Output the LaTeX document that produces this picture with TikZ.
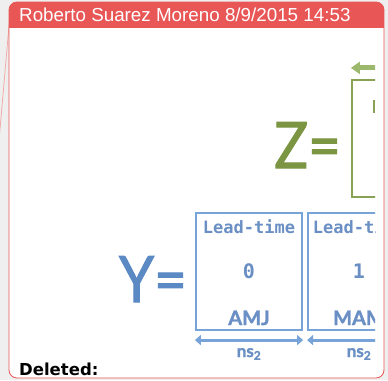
\documentclass[tikz,border=0pt]{standalone}
\usepackage{fontspec}
\setmainfont{Liberation Sans}
\newfontfamily\monofont{DejaVu Sans Mono}
\newfontfamily\bigfont{Lato}[FakeBold=1.6, BoldFeatures={FakeBold=1.4}]
\newfontfamily\notefont{DejaVu Sans}
\usetikzlibrary{positioning, arrows.meta}

\definecolor{balloonred}{HTML}{E85656}
\definecolor{pagegray}{HTML}{EFEFEF}
\definecolor{boxblue}{HTML}{78A3D8}
\definecolor{textblue}{HTML}{6A8FC4}
\definecolor{yblue}{HTML}{5A89C3}
\definecolor{zgreen}{HTML}{7B9542}
\definecolor{boxgreen}{HTML}{88A253}
\definecolor{arrowgreen}{HTML}{9CB86C}

\tikzset{
  ybox/.style={draw=boxblue, line width=2.2pt, minimum width=106pt, minimum height=117pt, inner sep=0pt},
  zbox/.style={draw=boxgreen, line width=2.2pt, minimum width=106pt, minimum height=117pt, inner sep=0pt},
  leadtext/.style={text=textblue, font=\monofont\bfseries\fontsize{17}{17}\selectfont, anchor=base, inner sep=0pt},
  numtext/.style={text=textblue, font=\monofont\bfseries\fontsize{20}{20}\selectfont, anchor=base, inner sep=0pt},
  monthtext/.style={text=textblue, font=\bigfont\bfseries\fontsize{20}{20}\selectfont, anchor=base, inner sep=0pt},
  nstext/.style={text=textblue, font=\bigfont\bfseries\fontsize{17}{17}\selectfont, anchor=base, inner sep=0pt},
  bigletter/.style={font=\bigfont\fontsize{64}{64}\selectfont, anchor=base east, inner sep=0pt, xscale=0.88},
  nsarrow/.style={draw=boxblue, line width=3.2pt, {Triangle[width=10pt,length=6pt]}-{Triangle[width=10pt,length=6pt]}},
  zarrow/.style={draw=arrowgreen, line width=5pt, {Triangle[width=12pt,length=9pt]}-{Triangle[width=12pt,length=9pt]}}
}

\begin{document}
\begin{tikzpicture}[x=1pt,y=-1pt]
  \useasboundingbox (0,0) rectangle (388,380);
  \fill[pagegray] (0,0) rectangle (388,380);

  % comment balloon with its leader line
  \draw[balloonred!55, line width=0.7pt] (9.5,20) -- (-0.5,135);
  \fill[white, rounded corners=8pt] (9,2) rectangle (384,378);
  \begin{scope}
    \clip[rounded corners=8pt] (9,2) rectangle (384,378);
    \fill[balloonred] (9,2) rectangle (384,28);
  \end{scope}
  \draw[balloonred, line width=0.8pt, rounded corners=8pt] (9,2) rectangle (384,378);
  \node[text=white, font=\fontsize{18.8}{18.8}\selectfont, anchor=base west, inner sep=0pt]
    (author) at (19,21) {Roberto Suarez Moreno 8/9/2015 14:53};

  % pasted slide, cut at the right edge
  \begin{scope}
    \clip (10,29) rectangle (375,377);

    % Z row
    \node[bigletter, text=zgreen] (zeq) at (341,168) {Z=};
    \node[zbox] (zb) at (405,138.5) {};
    \draw[zarrow] ([yshift=11pt]zb.north east) -- ([yshift=11pt]zb.north west);
    \fill[boxgreen] (372.5,100) rectangle (375,113);

    % Y row
    \node[bigletter, text=yblue] (yeq) at (187,302) {Y=};
    \node[ybox] (lt0) at (249,271.5) {};
    \node[ybox, right=4pt of lt0] (lt1) {};

    \node[leadtext] (lead0) at (249,233) {Lead-time};
    \node[numtext] (num0) at (249,278) {0};
    \node[monthtext] (mon0) at (249,325) {AMJ};
    \node[leadtext] (lead1) at (359,233) {Lead-time};
    \node[numtext] (num1) at (359,278) {1};
    \node[monthtext] (mon1) at (359,325) {MAM};

    \draw[nsarrow] ([yshift=-9pt]lt0.south west) -- ([yshift=-9pt]lt0.south east);
    \draw[nsarrow] ([yshift=-9pt]lt1.south west) -- ([yshift=-9pt]lt1.south east);
    \node[nstext] (ns0) at (249,357) {ns\textsubscript{2}};
    \node[nstext] (ns1) at (359,357) {ns\textsubscript{2}};
  \end{scope}

  \node[font=\notefont\bfseries\fontsize{16.5}{16.5}\selectfont, anchor=base west, inner sep=0pt]
    (deleted) at (19,375) {Deleted:};
\end{tikzpicture}
\end{document}
